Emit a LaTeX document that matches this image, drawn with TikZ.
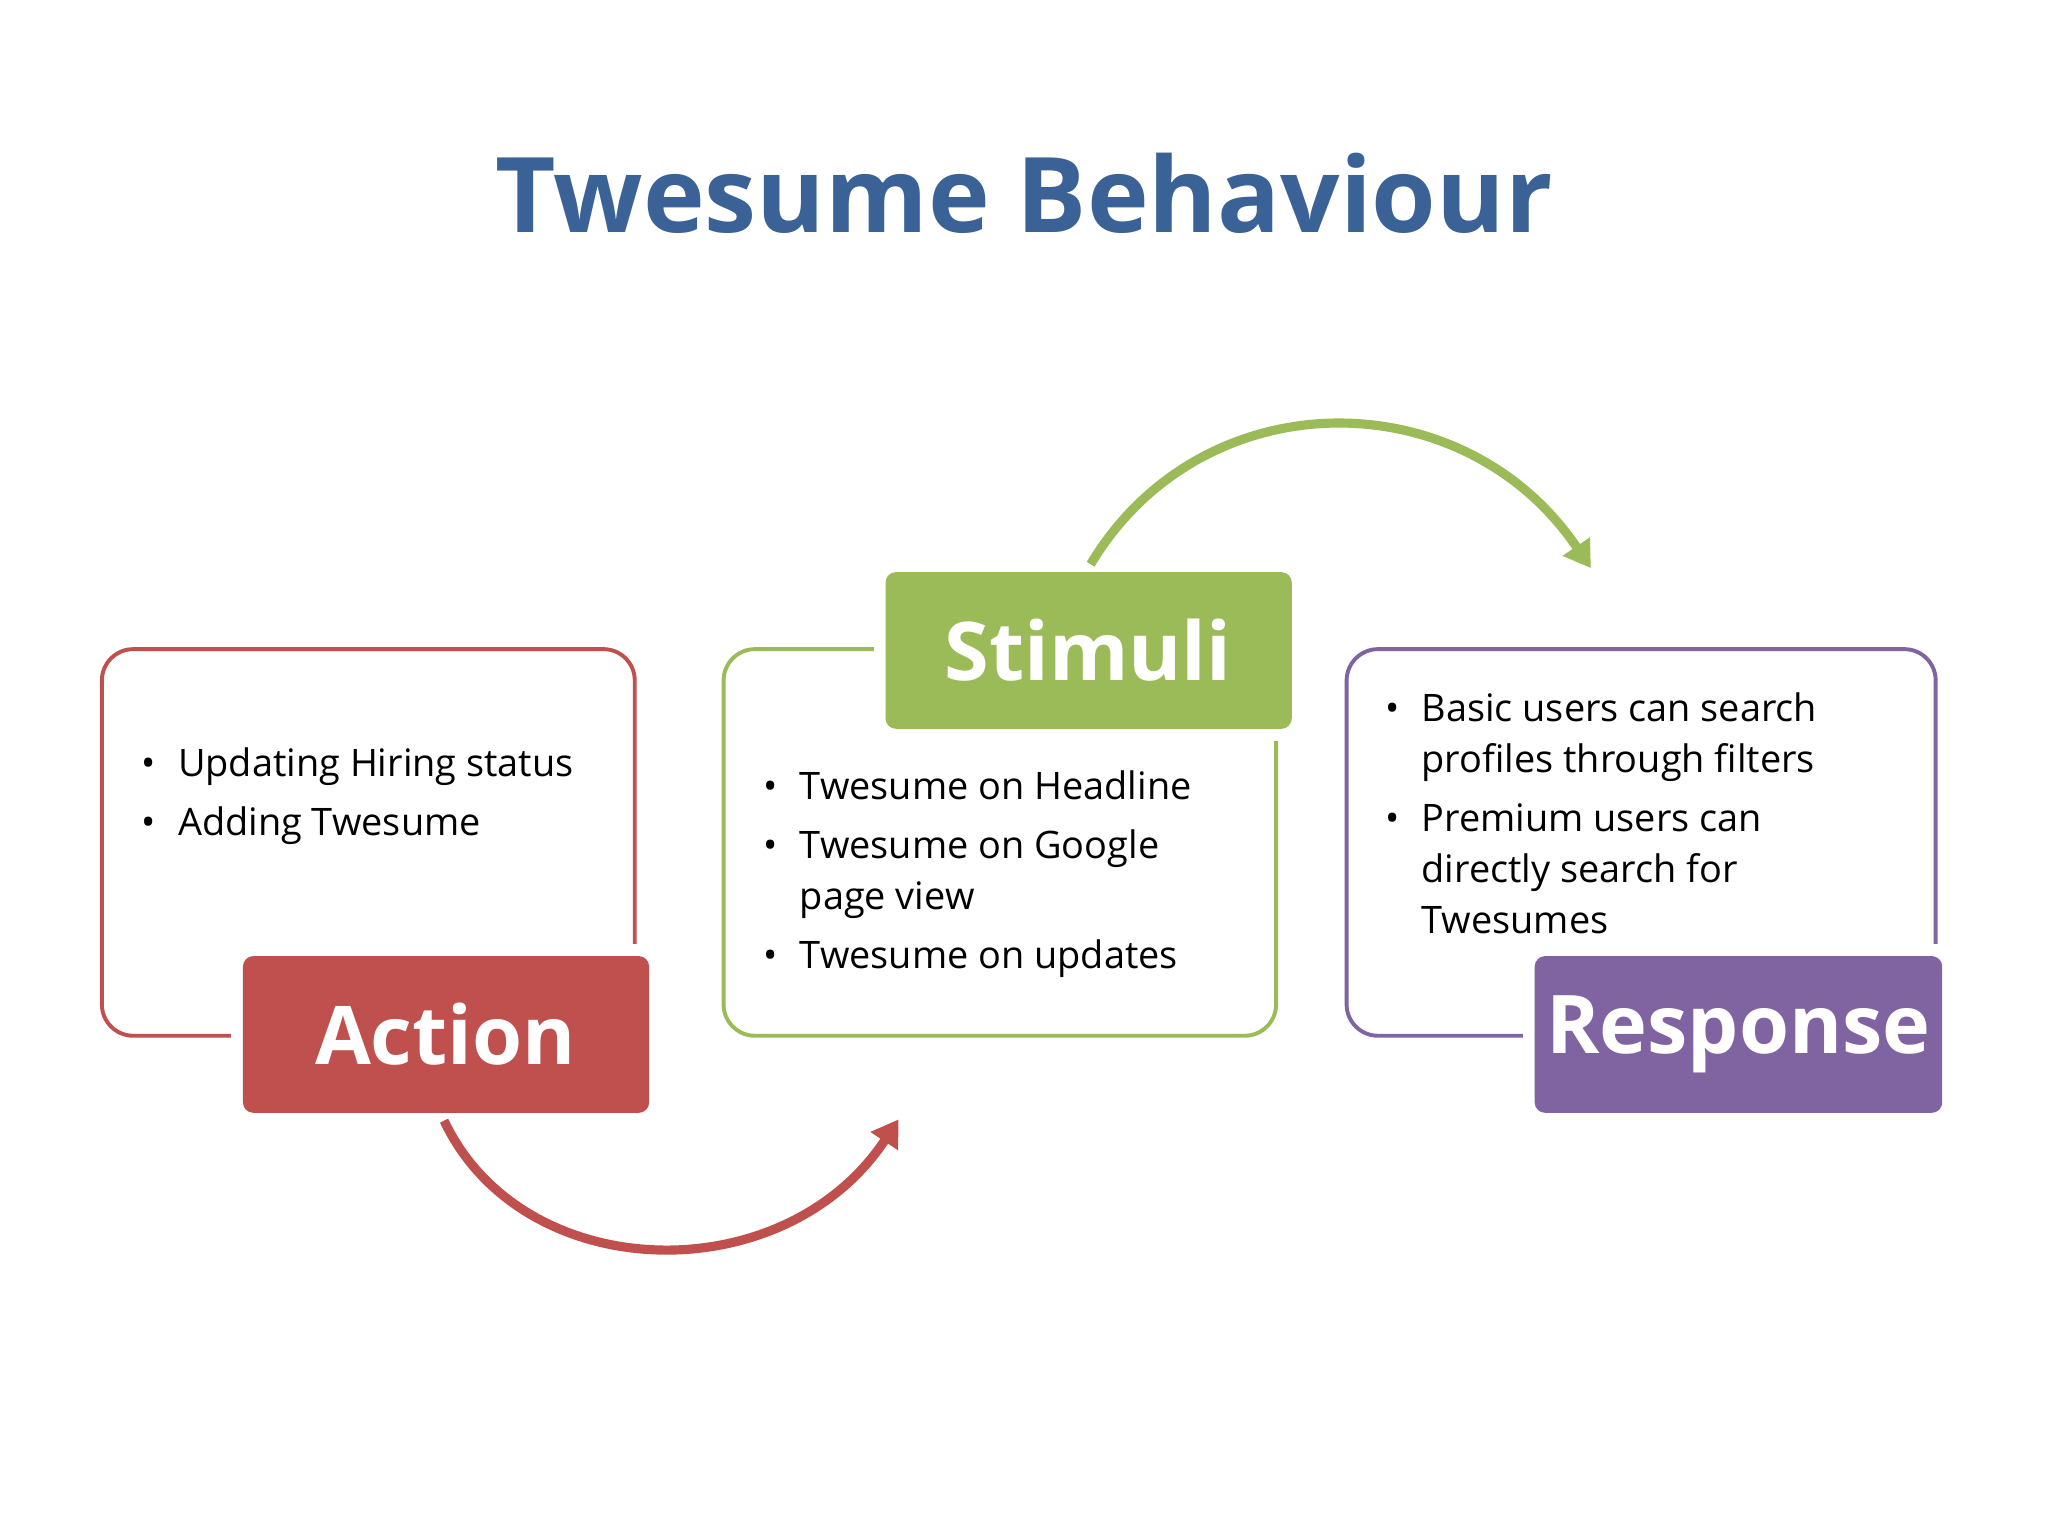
\documentclass[tikz,border=0pt]{standalone}
\usepackage{fontspec}
\setmainfont{Open Sans}
\usetikzlibrary{arrows.meta}
\definecolor{tblue}{HTML}{3A6296}
\definecolor{tred}{HTML}{C0504D}
\definecolor{tgreen}{HTML}{9BBB59}
\definecolor{tpurple}{HTML}{8064A2}
\begin{document}
\begin{tikzpicture}[x=0.5pt,y=-0.5pt,
  outer/.style={line width=1.5pt,rounded corners=12pt},
  gap/.style={fill=white,draw=white,line width=5pt},
  lab/.style={rounded corners=4pt},
  labt/.style={text=white,font=\fontsize{31}{31}\selectfont\bfseries},
  bl/.style={anchor=north west,align=left,font=\fontsize{14.5}{19.5}\selectfont,inner sep=0pt},
  arc/.style={line width=3.5pt,-{Triangle[length=10pt,width=12pt]}}]
\useasboundingbox (0,0) rectangle (1568,1176);
\node[text=tblue,font=\fontsize{40}{40}\selectfont\bfseries] (title) at (784,148) {Twesume Behaviour};
% outer boxes
\draw[outer,draw=tred] (78,497) rectangle (486,793);
\draw[outer,draw=tgreen] (554,497) rectangle (977,793);
\draw[outer,draw=tpurple] (1031,497) rectangle (1482,793);
% labels
\path[gap] (182,728) rectangle (501,856);
\path[lab,fill=tred] (186,732) rectangle (497,852);
\node[labt] (action) at (341,792) {Action};
\path[gap] (674,434) rectangle (993,562);
\path[lab,fill=tgreen] (678,438) rectangle (989,558);
\node[labt] (stimuli) at (833,498) {Stimuli};
\path[gap] (1171,728) rectangle (1491,856);
\path[lab,fill=tpurple] (1175,732) rectangle (1487,852);
\node[labt] (response) at (1331,792) {Response};
% bullets
\newcommand{\bul}{\makebox[14pt][l]{\textbullet}}
\node[bl] (ab) at (108,572) {\bul Updating Hiring status\\[3pt]\bul Adding Twesume};
\node[bl] (sb) at (584,590) {\bul Twesume on Headline\\[3pt]\bul Twesume on Google\\\phantom{\bul}page view\\[3pt]\bul Twesume on updates};
\node[bl] (rb) at (1060,530) {\bul Basic users can search\\\phantom{\bul}profiles through filters\\[3pt]\bul Premium users can\\\phantom{\bul}directly search for\\\phantom{\bul}Twesumes};
% arcs
\coordinate (r1) at (340,858); \coordinate (r2) at (688,857);
\coordinate (g1) at (835,432); \coordinate (g2) at (1218,435);
\draw[arc,color=tred] (r1) .. controls (400,985) and (600,990) .. (r2);
\draw[arc,color=tgreen] (g1) .. controls (920,290) and (1120,290) .. (g2);
\end{tikzpicture}
\end{document}
